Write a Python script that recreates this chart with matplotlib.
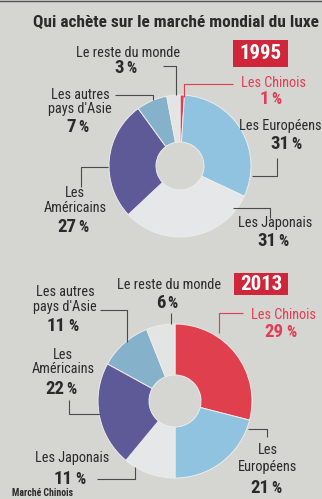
"""Qui achète sur le marché mondial du luxe - donuts 1995 / 2013."""

import matplotlib
matplotlib.use("Agg")
import matplotlib.pyplot as plt
from matplotlib import font_manager as fm

W, H = 322, 499

CATEGORIES = ["Les Chinois", "Les Européens", "Les Japonais",
              "Les Américains", "Les autres pays d'Asie", "Le reste du monde"]
SHARE_1995 = [1, 31, 31, 27, 7, 3]
SHARE_2013 = [29, 21, 11, 22, 11, 6]

BG = "#d5d5d1"
INK = "#2a2a2a"
RED = "#e0404e"
RED_TXT = "#e23d55"
BADGE = "#cf2639"
LINE = "#4a4a4a"
COLORS = [RED, "#8fc3df", "#e6e7e9", "#5d5a97", "#86b1ca", "#e3e4e4"]

# pick a narrow family if one is installed
fonts = fm.fontManager.ttflist
names = {f.name for f in fonts}
STRETCH = "normal"
SCALE = 1.0
if "Roboto Condensed" in names:
    FAMILY = "Roboto Condensed"
elif "Liberation Sans Narrow" in names:
    FAMILY = "Liberation Sans Narrow"
elif any(f.name == "DejaVu Sans" and "ondensed" in str(f.stretch) for f in fonts):
    FAMILY, STRETCH = "DejaVu Sans", "condensed"
else:
    FAMILY, SCALE = "Liberation Sans", 0.92
plt.rcParams["font.family"] = [FAMILY, "DejaVu Sans"]
plt.rcParams["font.stretch"] = STRETCH

fig = plt.figure(figsize=(W / 100, H / 100), dpi=100)
fig.patch.set_facecolor(BG)
ax = fig.add_axes([0, 0, 1, 1])
ax.set_facecolor(BG)


def py(y):
    return H - y


def donut(values, cx, cy, r, hole):
    ax.pie(values, colors=COLORS, startangle=90, counterclock=False,
           center=(cx, py(cy)), radius=r, frame=True,
           wedgeprops=dict(width=r - hole, edgecolor="#ececec", linewidth=0.7))


def leader(points, color=LINE):
    xs = [p[0] for p in points]
    ys = [py(p[1]) for p in points]
    ax.plot(xs, ys, color=color, linewidth=0.8, solid_capstyle="butt")


def label(x, ys, lines, value, pct_y, color=INK, pct_x=None):
    for y, txt in zip(ys, lines):
        ax.text(x, py(y), txt, ha="center", va="center",
                fontsize=10.3 * SCALE, color=color)
    cx = x if pct_x is None else pct_x
    w = 9.5 * len(str(value))
    right = cx - (w + 3 + 14) / 2 + w
    ax.text(right, py(pct_y), str(value), ha="right", va="center",
            fontsize=13.5 * SCALE, fontweight="bold", color=color)
    ax.text(right + 2.5, py(pct_y) - 0.5, "%", ha="left", va="center",
            fontsize=11.5 * SCALE, fontweight="bold", color=color)


def badge(x0, y0, x1, y1, txt):
    ax.add_patch(plt.Rectangle((x0, py(y1)), x1 - x0, y1 - y0,
                               facecolor=BADGE, edgecolor="none"))
    ax.text((x0 + x1) / 2, py((y0 + y1) / 2), txt, ha="center", va="center",
            fontsize=15 * SCALE, fontweight="bold", color="white")


# 1995
donut(SHARE_1995, 180, 166, 71, 24)
badge(233, 40, 288, 67, "1995")
label(128, [53], ["Le reste du monde"], SHARE_1995[5], 68)
leader([(163, 66), (176, 66), (176, 95)])
label(273, [83], ["Les Chinois"], SHARE_1995[0], 99, RED_TXT)
leader([(233, 84), (184, 84), (184, 97)], RED)
label(280, [126], ["Les Européens"], SHARE_1995[1], 144, pct_x=288)
leader([(277, 158), (277, 176), (252, 176)])
label(275, [223], ["Les Japonais"], SHARE_1995[2], 241)
leader([(233, 208), (270, 208), (270, 218)])
label(75, [193, 208], ["Les", "Américains"], SHARE_1995[3], 227)
leader([(81, 187), (81, 167), (108, 167)])
label(80, [95, 109], ["Les autres", "pays d'Asie"], SHARE_1995[4], 127)
leader([(115, 95), (153, 95), (153, 100)])

# 2013
donut(SHARE_2013, 175, 401, 77, 26)
badge(234, 273, 288, 295, "2013")
label(65, [292, 307], ["Les autres", "pays d'Asie"], SHARE_2013[4], 326)
leader([(100, 310), (127, 310), (127, 342)])
label(169, [285], ["Le reste du monde"], SHARE_2013[5], 303)
leader([(171, 313), (171, 324)])
label(283, [315], ["Les Chinois"], SHARE_2013[0], 332, RED_TXT)
leader([(243, 313), (219, 313), (219, 333)], RED)
label(268, [450, 467], ["Les", "Européens"], SHARE_2013[1], 488)
leader([(248, 429), (267, 429), (267, 437)])
label(72, [458], ["Les Japonais"], SHARE_2013[2], 479)
leader([(97, 479), (135, 479), (135, 467)])
label(63, [355, 369], ["Les", "Américains"], SHARE_2013[3], 389)
leader([(69, 400), (69, 414), (100, 414)])

# title and page bits
ax.text(33, py(22), "Qui achète sur le marché mondial du luxe", ha="left",
        va="center", fontsize=12.4 * SCALE, fontweight="bold", color=INK)
ax.plot([0, W], [py(1), py(1)], color="#555555", linewidth=1.0)
ax.text(12, py(498), "Marché Chinois", ha="left", va="bottom",
        fontsize=7, fontweight="bold", color=INK)

ax.set_xlim(0, W)
ax.set_ylim(0, H)
ax.set_aspect("auto")
ax.axis("off")

fig.savefig("out.png", dpi=100, facecolor=BG)
